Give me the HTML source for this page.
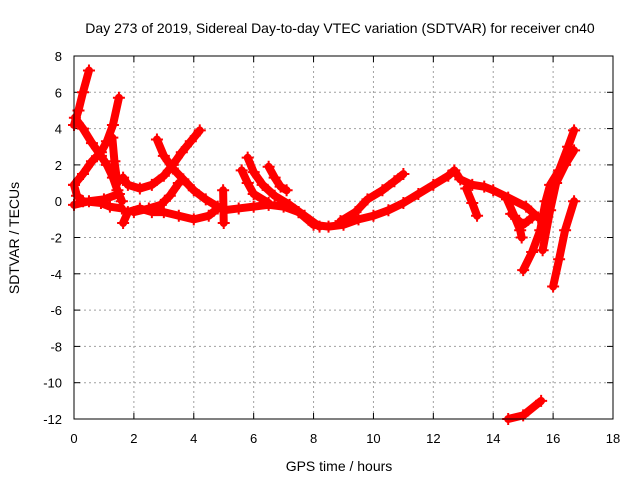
<!DOCTYPE html>
<html><head><meta charset="utf-8"><style>
body{margin:0;background:#fff}
svg{display:block;font-family:"Liberation Sans",sans-serif}
</style></head><body>
<svg id="chart" width="640" height="480">
<text x="340" y="33" font-size="14" text-anchor="middle">Day 273 of 2019, Sidereal Day-to-day VTEC variation (SDTVAR) for receiver cn40</text>
<text x="339" y="471" font-size="14" text-anchor="middle">GPS time / hours</text>
<text x="19" y="238" font-size="14" text-anchor="middle" transform="rotate(-90 19 238)">SDTVAR / TECUs</text>
<g id="grid"></g><g id="marks"></g>
<rect x="74" y="56" width="539" height="363" fill="none" stroke="#000"/>
</svg>
<script>
const xTicks=[0,2,4,6,8,10,12,14,16,18];
const yTicks=[8,6,4,2,0,-2,-4,-6,-8,-10,-12];
const trackHours=[
[0,0.15,0.3,0.5],
[0.03,0.3,0.6,0.9,1.1,1.3,1.45,1.6],
[0,0.3,0.6,0.9,1.1,1.3,1.5],
[0,0.1,0.3,0.9,1.2,1.6],
[0,0.5,1.0,1.5],
[1.64,1.8,2.2,2.6,3.0,3.3,3.6,3.9,4.2],
[2.77,3.0,3.3,3.65,4.0,4.4,4.8],
[1.28,1.35,1.45],
[1.64,1.8,2.2,2.6,3.0,3.5,4.0,4.5,4.8],
[2.0,2.5,2.9,3.2,3.5],
[4.98,5.0],
[5.0,5.5,6.0,6.5,7.0,7.5],
[5.8,6.0,6.3,6.7,7.2,7.7,8.2],
[5.6,5.8,6.0,6.5],
[6.5,6.7,6.9,7.1],
[7.5,8.0,8.5,9.0,9.5,10.0,10.5,11.0,11.5,12.0,12.5,12.7,12.9,13.3,13.7,14.0,14.5,15.1,15.5],
[8.9,9.4,9.8,10.3,10.7,11.0],
[13.1,13.3,13.46],
[14.46,14.7,14.9,14.95],
[14.6,15.0,15.3],
[15.0,15.3,15.57,15.75,15.9,16.2,16.5,16.7],
[15.65,15.9,16.1,16.4,16.7],
[16.0,16.2,16.4,16.7],
[14.5,15.0,15.6]];
const trackValues=[
[4.2,5,6,7.2],
[4.6,4.0,3.2,2.5,2.0,1.3,0.6,0.0],
[0.9,1.5,2.2,2.7,3.3,4.2,5.7],
[0.9,0.3,0.0,-0.1,-0.3,-0.4],
[-0.2,0.0,0.1,0.4],
[1.3,0.9,0.7,0.9,1.4,2.0,2.7,3.3,3.9],
[3.4,2.5,1.8,1.2,0.6,0.1,-0.3],
[3.5,2.2,1.0],
[-1.2,-0.6,-0.4,-0.6,-0.6,-0.8,-1.0,-0.8,-0.4],
[-0.6,-0.4,-0.2,0.3,1.0],
[0.6,-1.2],
[-0.5,-0.4,-0.3,-0.2,-0.3,-0.6],
[2.4,1.6,0.9,0.3,-0.2,-0.8,-1.4],
[1.7,1.0,0.4,-0.1],
[1.9,1.3,0.8,0.6],
[-0.6,-1.3,-1.4,-1.3,-1.0,-0.8,-0.5,-0.1,0.4,0.9,1.4,1.7,1.2,0.9,0.8,0.6,0.2,-0.3,-0.9],
[-1.1,-0.6,0.1,0.6,1.1,1.5],
[0.7,-0.1,-0.8],
[0.1,-0.8,-1.6,-2.0],
[-0.7,-1.3,-0.9],
[-3.8,-2.8,-1.6,0.0,0.9,1.7,3.0,3.9],
[-2.7,-0.5,1.0,2.0,2.8],
[-4.7,-3.2,-1.6,0.0],
[-12.0,-11.8,-11.0]];
const X0=74,X1=613,Y0=56,Y1=419;
const sx=h=>X0+(h-0)/(18-0)*(X1-X0);
const sy=v=>Y0+(8-v)/(8-(-12))*(Y1-Y0);
const NS="http://www.w3.org/2000/svg";
const grid=document.getElementById('grid'),svg=document.getElementById('chart'),marks=document.getElementById('marks');
function mk(t,a,p){const e=document.createElementNS(NS,t);for(const k in a)e.setAttribute(k,a[k]);p.appendChild(e);return e;}
xTicks.forEach(t=>{const x=sx(t);
 if(t>0&&t<18){const l=mk('line',{x1:x,x2:x,y1:Y0,y2:Y1,stroke:'#a0a0a0','stroke-dasharray':'2,3'},grid);
 
 }
 mk('line',{x1:x,x2:x,y1:Y1,y2:Y1-6,stroke:'#000'},grid);mk('line',{x1:x,x2:x,y1:Y0,y2:Y0+6,stroke:'#000'},grid);
 const tx=mk('text',{x:x,y:443,'font-size':13,'text-anchor':'middle'},svg);tx.textContent=t;
 
 });
yTicks.forEach(t=>{const y=sy(t);
 if(t<8&&t>-12){const l=mk('line',{x1:X0,x2:X1,y1:y,y2:y,stroke:'#a0a0a0','stroke-dasharray':'2,3'},grid);
 
 }
 mk('line',{x1:X0,x2:X0+6,y1:y,y2:y,stroke:'#000'},grid);mk('line',{x1:X1,x2:X1-6,y1:y,y2:y,stroke:'#000'},grid);
 const tx=mk('text',{x:62,y:y+5,'font-size':13,'text-anchor':'end'},svg);tx.textContent=t;
 
 });
trackHours.forEach((hs,i)=>{const vs=trackValues[i];
 const pts=hs.map((h,j)=>sx(h)+','+sy(vs[j])).join(' ');
 const p=mk('polyline',{points:pts,fill:'none',stroke:'#ff0000','stroke-width':8,'stroke-linejoin':'round','stroke-linecap':'round'},marks);
 
 
 hs.forEach((h,j)=>{const x=sx(h),y=sy(vs[j]);
  const c=mk('path',{d:`M${x-6},${y}H${x+6}M${x},${y-6}V${y+6}`,stroke:'#ff0000','stroke-width':2},marks);
  
  });
});
</script>
</body></html>
